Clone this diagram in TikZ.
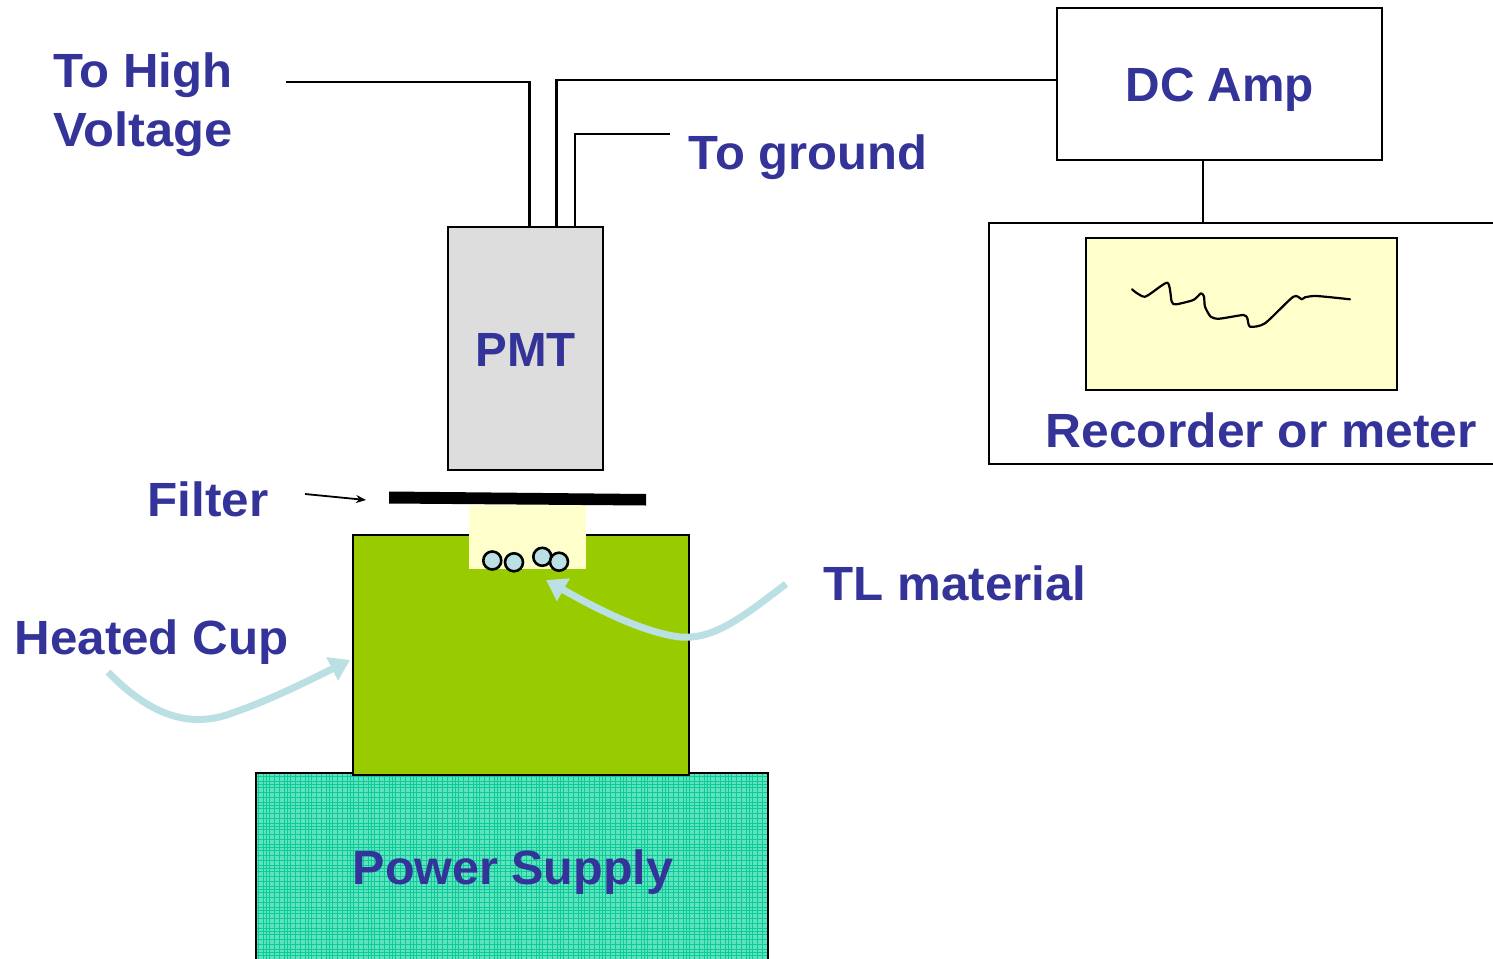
\documentclass[tikz,border=0pt]{standalone}
\usepackage{fontspec}
\setmainfont{Liberation Sans}
\usetikzlibrary{arrows.meta}
\definecolor{labelblue}{HTML}{333399}
\definecolor{cupgreen}{HTML}{99CC00}
\definecolor{paleyellow}{HTML}{FFFFCC}
\definecolor{paleblue}{HTML}{BBE0E3}
\definecolor{pmtgrey}{HTML}{DDDDDD}
\definecolor{psbase}{HTML}{5FE3BE}
\definecolor{psline}{HTML}{0CCB98}
\newcommand{\hstretch}[2]{\scalebox{#1}[1]{#2}}
\tikzset{
  lab/.style={font=\fontsize{48}{58}\selectfont\bfseries, text=labelblue, inner sep=0pt, anchor=base west},
  wire/.style={draw=black, line width=2.4pt},
  boxed/.style={draw=black, line width=2.6pt, inner sep=0pt, outer sep=0pt, anchor=north west},
  bigarrow/.style={draw=paleblue, line width=7pt, -{Triangle[length=20pt,width=25pt]}},
  grain/.style={circle, draw=black, fill=paleblue, line width=2.6pt, minimum size=18pt, inner sep=0pt},
}
\begin{document}
\begin{tikzpicture}[x=1pt,y=-1pt]
\path[use as bounding box, clip] (0,0) rectangle (1493,958);
\fill[white] (0,0) rectangle (1493,958);
% power supply
\node[boxed, fill=psbase, minimum width=512pt, minimum height=205pt] (ps) at (256,773) {};
\begin{scope}
\clip (257,774) rectangle (767,958);
\foreach \i in {0,...,25}{
  \foreach \d in {0,5,8,11,16}{
    \draw[psline, line width=.9pt] ({258+\i*21+\d},774) -- ++(0,190);
    \draw[psline, line width=.9pt] (256,{776+\i*21+\d}) -- ++(512,0);
  }
}
\end{scope}
\draw[black, line width=2.6pt] (256,958) -- (256,773) -- (768,773) -- (768,958);
% heated cup
\node[boxed, fill=cupgreen, minimum width=336pt, minimum height=240pt] (cup) at (353,535) {};
% sample
\node[fill=paleyellow, minimum width=117pt, minimum height=64pt, inner sep=0pt, outer sep=0pt, anchor=north west] (sample) at (469,505) {};
\node[grain] (g1) at (492.3,560.5) {};
\node[grain] (g3) at (542.3,556.8) {};
\node[grain] (g2) at (514,562.3) {};
\node[grain] (g4) at (559,561.7) {};
% filter
\fill[black] (389,491.5) -- (646,494) -- (646,505.5) -- (389,503.5) -- cycle;
\coordinate (filtertip) at (366,500);
\coordinate (filtertail) at (305,494);
\draw[black, line width=1.8pt, -{Stealth[length=10pt,width=8pt]}] (filtertail) -- (filtertip);
% PMT
\node[boxed, fill=pmtgrey, minimum width=155pt, minimum height=243pt] (pmt) at (448,227) {};
\coordinate (pmtA) at (529.5,227);
\coordinate (pmtB) at (556.5,227);
\coordinate (pmtC) at (575,227);
\coordinate (hvend) at (286,82);
\coordinate (gndend) at (670,134);
% DC amp + recorder
\node[boxed, minimum width=325pt, minimum height=152pt] (amp) at (1057,8) {};
\node[boxed, minimum width=520pt, minimum height=241pt] (rec) at (989,223) {};
\node[boxed, fill=paleyellow, minimum width=311pt, minimum height=152pt] (screen) at (1086,238) {};
\coordinate (ampL) at (1057,80);
\coordinate (ampB) at (1203,160);
\coordinate (recT) at (1203,223);
\draw[wire] (hvend) -- (529.5,82) -- (pmtA);
\draw[wire] (pmtB) -- (556.5,80) -- (ampL);
\draw[wire] (pmtC) -- (575,134) -- (gndend);
\draw[wire] (ampB) -- (recT);
% trace
\draw[black, line width=2.2pt, line cap=round, line join=round] plot[smooth, tension=0.4] coordinates {
(1132,289.3) (1145,296.7) (1167.3,282.7) (1171.7,301.7) (1176,304.3) (1193.3,300) (1201,293.3) (1204,296.7) (1205,306.7) (1210.7,316.7) (1219.3,318.7) (1243.3,315) (1247.3,318.3) (1250,326.7) (1265,323.3) (1293.3,296.7) (1301.7,299.3) (1305,297.3) (1316.7,296) (1350,299.3)};
% curved arrows
\coordinate (hcTail) at (108,672);
\coordinate (hcTip) at (350,660);
\coordinate (tlTail) at (786,584);
\coordinate (tlTip) at (546,580);
\draw[bigarrow] (hcTail) .. controls (150,715) and (190,730) .. (235,712) .. controls (270,700) and (310,680) .. (hcTip);
\draw[bigarrow] (tlTail) .. controls (745,615) and (715,640) .. (680,637) .. controls (640,632) and (590,605) .. (tlTip);
% labels
\node[lab] (hv1) at (53,88) {\hstretch{1.023}{To High}};
\node[lab] (hv2) at (53,146) {\hstretch{1.055}{Voltage}};
\node[lab] (gnd) at (688.5,169) {\hstretch{1.02}{To ground}};
\node[lab] (dc) at (1125.5,101) {\hstretch{0.995}{DC Amp}};
\node[lab] (pmtl) at (475.5,366) {\hstretch{0.99}{PMT}};
\node[lab] (recl) at (1045.5,447) {\hstretch{1.036}{Recorder or meter}};
\node[lab] (fl) at (147.5,516) {\hstretch{1.03}{Filter}};
\node[lab] (tl) at (823.5,600) {\hstretch{1.027}{TL material}};
\node[lab] (hc) at (14.5,654) {\hstretch{1.027}{Heated Cup}};
\node[lab] (psl) at (352.5,884) {\hstretch{1.01}{Power Supply}};
\end{tikzpicture}
\end{document}
